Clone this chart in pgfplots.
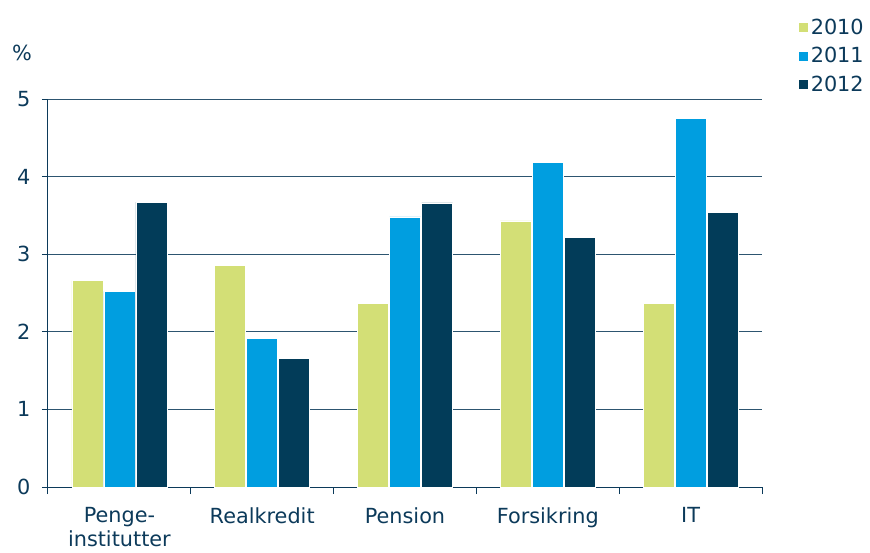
\documentclass[border=0pt]{standalone}
\usepackage{pgfplots}
\pgfplotsset{compat=1.18}
\usepackage{fontspec}
\setmainfont{DejaVu Sans}
\definecolor{cA}{RGB}{211,223,118}
\definecolor{cB}{RGB}{0,158,224}
\definecolor{cC}{RGB}{2,60,89}
\definecolor{txt}{RGB}{12,58,90}
\definecolor{gridc}{RGB}{45,85,112}
\begin{document}
\begin{tikzpicture}[font=\fontsize{20.8pt}{25pt}\selectfont]
\begin{axis}[
  at={(0,0)}, anchor=south west,
  scale only axis, width=714pt, height=388pt,
  clip=false,
  xmin=-0.5, xmax=4.5, ymin=0, ymax=5,
  ybar=1pt, bar width=31pt,
  xtick={0,1,2,3,4},
  xticklabels={{Penge-\\institutter},Realkredit,Pension,Forsikring,IT},
  xticklabel style={align=center, text=txt, inner ysep=1pt, yshift=-13pt, font=\fontsize{20.8pt}{24pt}\selectfont},
  yticklabel style={text=txt, xshift=-8pt},
  minor xtick={-0.5,0.5,1.5,2.5,3.5,4.5},
  ytick={0,1,2,3,4,5},
  ymajorgrids, grid style={gridc, line width=1pt},
  axis lines*=left,
  axis line style={txt, line width=1pt},
  tick align=outside, major tick length=6pt, minor tick length=7pt,
  major x tick style={draw=none},
  minor x tick style={txt, line width=1pt},
  y tick style={txt, line width=1pt},
  /pgf/number format/assume math mode=true,
  legend image code/.code={\fill[#1] (0pt,-5pt) rectangle (10pt,5pt);},
  legend style={draw=none, fill=none, at={(1.0504,1.212)}, anchor=north west,
    row sep=7.5pt, inner sep=0pt, font=\fontsize{20.8pt}{25pt}\selectfont, text=txt},
  legend cell align=left,
]
\addplot[fill=cA, draw=white, line width=0.6pt] coordinates {(0,2.66) (1,2.86) (2,2.37) (3,3.43) (4,2.37)};
\addplot[fill=cB, draw=white, line width=0.6pt] coordinates {(0,2.52) (1,1.91) (2,3.48) (3,4.18) (4,4.75)};
\addplot[fill=cC, draw=white, line width=0.6pt] coordinates {(0,3.67) (1,1.66) (2,3.66) (3,3.22) (4,3.54)};
\legend{2010,2011,2012}
\node[text=txt] at (rel axis cs:-0.0364,1.119) {\%};
\end{axis}
\pgfresetboundingbox
\path[use as bounding box] (-48pt,-65pt) rectangle (822pt,487pt);
\end{tikzpicture}
\end{document}
